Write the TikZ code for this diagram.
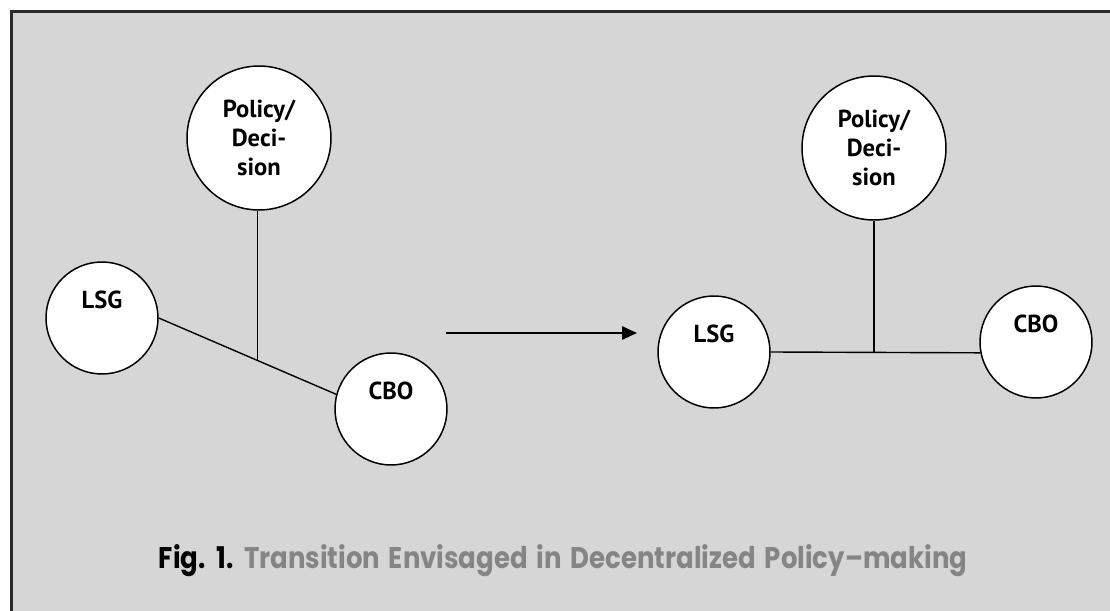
\documentclass[tikz,border=0pt]{standalone}
\usepackage{fontspec}
\setmainfont{PT Sans}
\newfontfamily\capfont[WordSpace=1.6]{Poppins}
\usepackage{tikz}
\usetikzlibrary{arrows.meta, calc}

\definecolor{panelgray}{HTML}{D6D6D6}
\definecolor{framegray}{HTML}{2B2B2B}
\definecolor{captiongray}{HTML}{858585}

\begin{document}
\begin{tikzpicture}[
        x=0.02cm, y=-0.02cm,
        font=\bfseries\fontsize{14}{16.5}\selectfont,
        actor/.style={circle, draw, fill=white, line width=0.85pt, minimum size=2.24cm,
                inner sep=0pt, text height=9.5pt, text depth=0.72cm},
        policy/.style={circle, draw, fill=white, line width=0.85pt, minimum size=2.88cm,
                inner sep=0pt, align=center},
        link/.style={line width=0.8pt},
        shiftarrow/.style={-{Triangle[length=8.5pt,width=7.5pt]}, line width=1.3pt},
    ]

    % --- panel ------------------------------------------------------
    \useasboundingbox (0,0) rectangle (1110,611);
    \fill[panelgray] (11,11) rectangle (1125,625);
    \draw[framegray, line width=1.7pt] (11.3,11.3) rectangle (1125,625);

    % --- before: three actors, policy on a branch ------------------
    \node[policy] (polL) at (259, 138) {Policy/\\Deci-\\sion};
    \node[actor]  (lsgL) at (102, 318) {LSG};
    \node[actor]  (cboL) at (391, 409) {CBO};

    \draw[link] (lsgL.east) -- (cboL.165);
    \coordinate (jL) at ($(lsgL.east)!0.556!(cboL.165)$);
    \draw[link] (jL) -- (jL |- polL.south);

    % --- transition -------------------------------------------------
    \coordinate (arrS) at (446, 333);
    \coordinate (arrE) at (637, 333);
    \draw[shiftarrow] (arrS) -- (arrE);

    % --- after: LSG and CBO on one level ---------------------------
    \node[policy] (polR) at (874, 148) {Policy/\\Deci-\\sion};
    \node[actor]  (lsgR) at (714, 352) {LSG};
    \node[actor]  (cboR) at (1036, 342) {CBO};

    \draw[link] (lsgR.east) -- (cboR.191);
    \draw[link] (polR.south) -- (polR.south |- lsgR.east);

    % --- caption ----------------------------------------------------
    \node (caption) at (563, 561)
    {\capfont\fontsize{17}{19}\selectfont\scalebox{0.87}[1]{Fig. 1. \textcolor{captiongray}{Transition Envisaged in Decentralized Policy–making}}};
\end{tikzpicture}
\end{document}
